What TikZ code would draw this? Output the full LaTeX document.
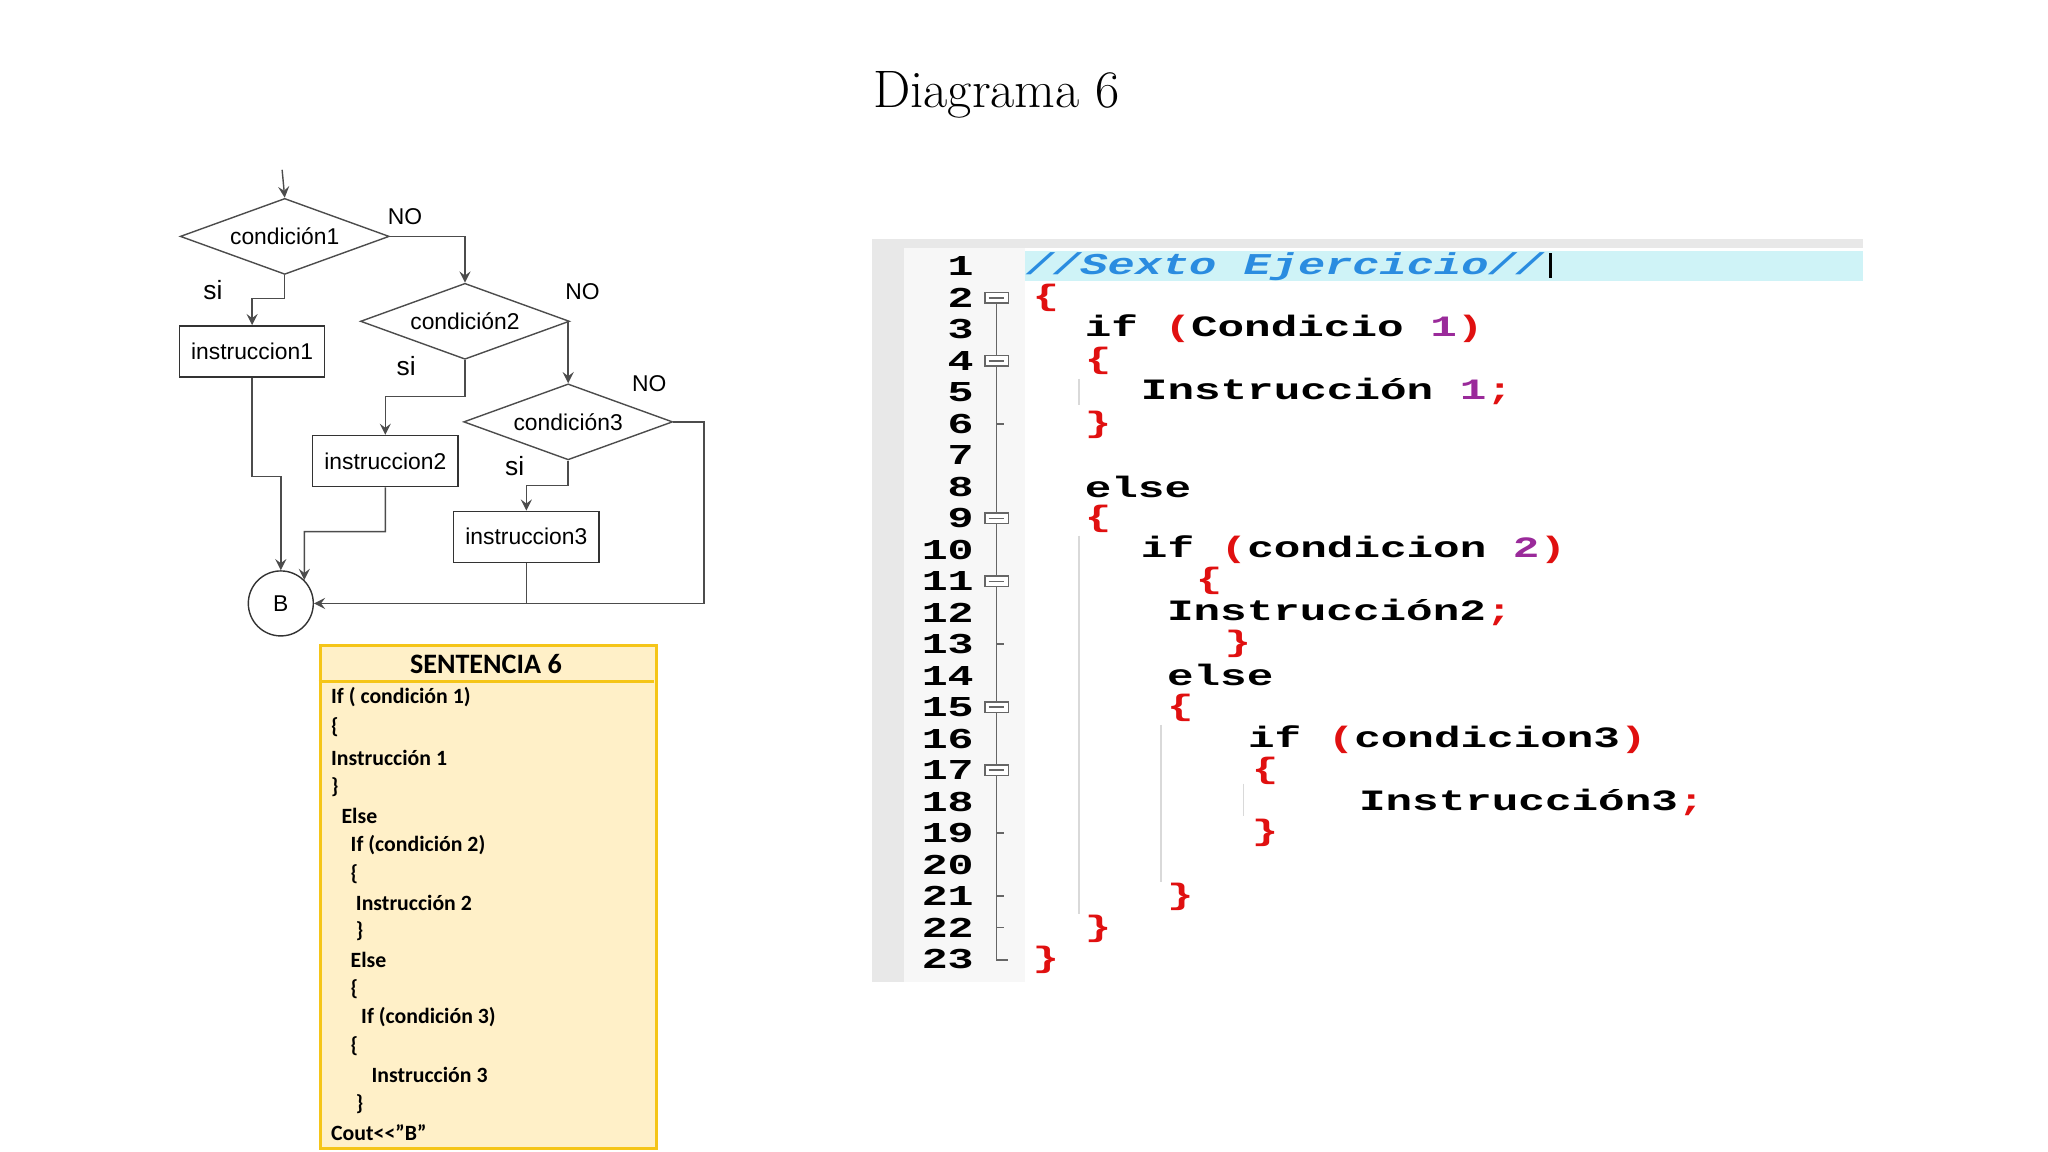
\documentclass[tikz,border=0pt]{standalone}
\usepackage{fontspec}
\usetikzlibrary{shapes.geometric, arrows}
\newfontfamily\flowfont{Liberation Sans}
\newfontfamily\notefont{Carlito}
\newfontfamily\codefont[FakeStretch=1.5]{Liberation Mono}
\definecolor{boxfill}{HTML}{FFF0C8}
\definecolor{boxline}{HTML}{F5C518}
\definecolor{cmtblue}{HTML}{2A8CE0}
\definecolor{hilite}{HTML}{CFF3F7}
\definecolor{bracered}{HTML}{E01010}
\definecolor{numpurple}{HTML}{9A2A9A}
\definecolor{gutter}{HTML}{E8E8E8}
\tikzstyle{decision} = [diamond, aspect=2.76, minimum width=2.09cm, minimum height=0.76cm, inner sep=0pt, draw=black!70, font=\flowfont\fontsize{6.5}{7}\selectfont]
\tikzstyle{process} = [rectangle, minimum width=1.42cm, minimum height=0.51cm, draw=black!80, font=\flowfont\fontsize{6.5}{7}\selectfont]
\tikzstyle{lbl} = [font=\flowfont\fontsize{6.5}{7}\selectfont]
\tikzstyle{arrow} = [black!70, ->, >=stealth]
\tikzstyle{note} = [anchor=west, inner sep=0pt, font=\notefont\bfseries\fontsize{6.2}{7}\selectfont]
\tikzstyle{code} = [anchor=west, inner sep=0pt, font=\codefont\bfseries\fontsize{8.4}{9}\selectfont]
\tikzstyle{lnum} = [anchor=east, inner sep=0pt, font=\codefont\bfseries\fontsize{8.2}{9}\selectfont]
\newcommand{\rb}[1]{\textcolor{bracered}{#1}}
\newcommand{\pn}[1]{\textcolor{numpurple}{#1}}
\begin{document}
\begin{tikzpicture}[x=0.013061cm, y=-0.013061cm]
    \useasboundingbox (0,0) rectangle (1568,882);
    \node (title) at (763,73) {\fontsize{15}{18}\selectfont Diagrama 6};

    % flowchart
    \coordinate (in) at (216,130);
    \node (c1) [decision] at (218,181) {condición1};
    \node (c2) [decision] at (356,246) {condición2};
    \node (c3) [decision] at (435,323) {condición3};
    \node (i1) [process] at (193,269) {instruccion1};
    \node (i2) [process] at (295,353) {instruccion2};
    \node (i3) [process] at (403,411) {instruccion3};
    \node (B) [circle, draw=black!80, minimum size=0.65cm, inner sep=0pt, font=\flowfont\fontsize{6.5}{7}\selectfont] at (215,462) {B};
    \node (no1) [lbl] at (310,166) {NO};
    \node (no2) [lbl] at (446,223) {NO};
    \node (no3) [lbl] at (497,294) {NO};
    \node (si1) [lbl, font=\flowfont\fontsize{7.5}{8}\selectfont] at (163,222) {si};
    \node (si2) [lbl, font=\flowfont\fontsize{7.5}{8}\selectfont] at (311,280) {si};
    \node (si3) [lbl, font=\flowfont\fontsize{7.5}{8}\selectfont] at (394,357) {si};
    \coordinate (back) at (539,462);

    \draw [arrow] (in) -- (c1.north);
    \draw [arrow] (c1.east) -| (c2.north);
    \draw [arrow] (c2.east) -| (c3.north);
    \draw [arrow] (c1.south) -- ++(0,18) -| (i1.north);
    \draw [arrow] (c2.south) -- ++(0,28) -| (i2.north);
    \draw [arrow] (c3.south) -- ++(0,19) -| (i3.north);
    \draw [arrow] (c3.east) -| (back) -- (B.east);
    \draw [arrow] (i1.south) |- (215,365) -- (B.north);
    \draw [arrow] (i2.south) |- (233,407) -- (B.north east);
    \draw [black!70] (i3.south) -- (403,462);

    % sentence box
    \node (sent) [draw=boxline, fill=boxfill, line width=0.8pt, minimum width=3.36cm, minimum height=5.03cm, inner sep=0pt, anchor=north west] at (244,493) {};
    \draw [boxline, line width=0.8pt] (244,522) -- (501,522);
    \node (head) [font=\notefont\bfseries\fontsize{8}{9}\selectfont] at (372,508) {SENTENCIA 6};
    \node (s1) [note] at (253,534) {If ( condición 1)};
    \node (s2) [note] at (253,557) {\{};
    \node (s3) [note] at (253,580) {Instrucción 1};
    \node (s4) [note] at (253,603) {\}};
    \node (s5) [note] at (261,625) {Else};
    \node (s6) [note] at (268,647) {If (condición 2)};
    \node (s7) [note] at (268,669) {\{};
    \node (s8) [note] at (272,691) {Instrucción 2};
    \node (s9) [note] at (272,713) {\}};
    \node (s10) [note] at (268,735) {Else};
    \node (s11) [note] at (268,757) {\{};
    \node (s12) [note] at (276,779) {If (condición 3)};
    \node (s13) [note] at (268,801) {\{};
    \node (s14) [note] at (284,823) {Instrucción 3};
    \node (s15) [note] at (272,845) {\}};
    \node (s16) [note] at (253,867) {Cout<<”B”};

    % code editor
    \fill [gutter] (668,183) rectangle (692,752);
    \fill [gutter] (692,183) rectangle (1426,190);
    \fill [black!3] (692,190) rectangle (785,752);
    \fill [hilite] (785,192) rectangle (1426,215);
    \foreach \n in {1,...,23}
        \node (n\n) [lnum] at (746,{204+24.1*(\n-1)}) {\n};
    \draw [black!60] (763,228) -- (763,735) -- (772,735);
    \foreach \n in {6,13,19,21,22}
        \draw [black!60] (763,{204+24.1*(\n-1)}) -- (769,{204+24.1*(\n-1)});
    \foreach \n in {2,4,9,11,15,17}
        \draw [black!60, fill=white] (754,{200+24.1*(\n-1)}) rectangle (772,{208+24.1*(\n-1)})
              (757,{204+24.1*(\n-1)}) -- (769,{204+24.1*(\n-1)});
    \draw [black!15] (826,290) -- (826,310) (826,410) -- (826,700) (889,555) -- (889,675) (952,600) -- (952,625);
    \node (k1) [code, font=\codefont\bfseries\itshape\fontsize{8.6}{9}\selectfont, text=cmtblue] at (785,204) {//Sexto Ejercicio//};
    \draw [black, thick] (1187,194) -- (1187,213);
    \node (k2) [code] at (790,228) {\rb{\{}};
    \node (k3) [code] at (830,252) {if \rb{(}Condicio \pn{1}\rb{)}};
    \node (k4) [code] at (830,276) {\rb{\{}};
    \node (k5) [code] at (873,300) {Instrucción \pn{1}\rb{;}};
    \node (k6) [code] at (830,325) {\rb{\}}};
    \node (k8) [code] at (830,373) {else};
    \node (k9) [code] at (830,397) {\rb{\{}};
    \node (k10) [code] at (873,421) {if \rb{(}condicion \pn{2}\rb{)}};
    \node (k11) [code] at (915,445) {\rb{\{}};
    \node (k12) [code] at (893,469) {Instrucción2\rb{;}};
    \node (k13) [code] at (937,493) {\rb{\}}};
    \node (k14) [code] at (893,517) {else};
    \node (k15) [code] at (893,542) {\rb{\{}};
    \node (k16) [code] at (955,566) {if \rb{(}condicion3\rb{)}};
    \node (k17) [code] at (958,590) {\rb{\{}};
    \node (k18) [code] at (1040,614) {Instrucción3\rb{;}};
    \node (k19) [code] at (958,638) {\rb{\}}};
    \node (k21) [code] at (893,687) {\rb{\}}};
    \node (k22) [code] at (830,711) {\rb{\}}};
    \node (k23) [code] at (790,735) {\rb{\}}};
\end{tikzpicture}
\end{document}
